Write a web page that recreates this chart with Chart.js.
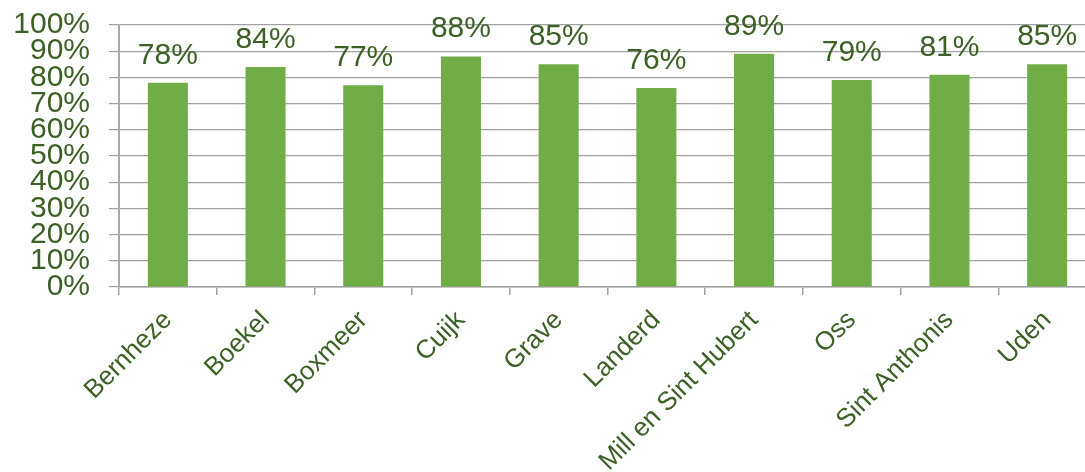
<!DOCTYPE html>
<html lang="nl">
<head>
<meta charset="utf-8">
<title>Percentage per gemeente</title>
<script src="https://cdn.jsdelivr.net/npm/chart.js"></script>
<style>
    html, body { margin: 0; padding: 0; background: #fff; overflow: hidden; }
    #grafiek { display: block; }
</style>
</head>
<body>
<canvas id="grafiek" width="1096" height="472"></canvas>
<script>
// Gemeenten en percentages
const gemeenten = ['Bernheze', 'Boekel', 'Boxmeer', 'Cuijk', 'Grave', 'Landerd',
    'Mill en Sint Hubert', 'Oss', 'Sint Anthonis', 'Uden'];
const percentages = [78, 84, 77, 88, 85, 76, 89, 79, 81, 85];
const yTicks = [0, 10, 20, 30, 40, 50, 60, 70, 80, 90, 100];

(function() {
    const groen = '#70AD47';
    const tekstKleur = '#3C6025';
    const lijnKleur = '#A0A0A0';
    const lettertype = '"Liberation Sans", Arial, sans-serif';

    // waarde boven elke staaf tekenen
    const waardeLabels = {
        id: 'waardeLabels',
        afterDatasetsDraw(chart) {
            const ctx = chart.ctx;
            const meta = chart.getDatasetMeta(0);
            ctx.save();
            ctx.font = '30px ' + lettertype;
            ctx.fillStyle = tekstKleur;
            ctx.textAlign = 'center';
            ctx.textBaseline = 'alphabetic';
            meta.data.forEach((staaf, i) => {
                ctx.fillText(percentages[i] + '%', staaf.x, staaf.y - 19);
            });
            ctx.restore();
        }
    };

    new Chart(document.getElementById('grafiek'), {
        type: 'bar',
        data: {
            labels: gemeenten,
            datasets: [{
                data: percentages,
                backgroundColor: groen,
                borderWidth: 0,
                categoryPercentage: 1,
                barPercentage: 0.41
            }]
        },
        options: {
            responsive: false,
            animation: false,
            devicePixelRatio: 1,
            layout: { padding: { top: 25, left: 0, right: 0, bottom: 0 } },
            plugins: {
                legend: { display: false },
                tooltip: { enabled: false }
            },
            scales: {
                x: {
                    afterFit(schaal) { schaal.height = 185; },
                    grid: {
                        offset: true,
                        drawOnChartArea: false,
                        color: lijnKleur,
                        lineWidth: 1.5,
                        tickLength: 8
                    },
                    border: { color: lijnKleur, width: 1.5 },
                    ticks: {
                        autoSkip: false,
                        maxRotation: 45,
                        minRotation: 45,
                        padding: 10,
                        color: tekstKleur,
                        font: { family: lettertype, size: 26 }
                    }
                },
                y: {
                    min: 0,
                    max: 100,
                    afterFit(schaal) {
                        schaal.width = 119;
                        // labels mogen buiten het plotvlak uitsteken
                        schaal.paddingTop = 0;
                        schaal.paddingBottom = 0;
                    },
                    afterBuildTicks(schaal) {
                        schaal.ticks = yTicks.map(v => ({ value: v }));
                    },
                    grid: { color: lijnKleur, lineWidth: 1.2, tickLength: 10 },
                    border: { color: '#ABABAB', width: 2 },
                    ticks: {
                        autoSkip: false,
                        padding: 19,
                        color: tekstKleur,
                        font: { family: lettertype, size: 30 },
                        callback: v => v + '%'
                    }
                }
            }
        },
        plugins: [waardeLabels]
    });
})();
</script>
</body>
</html>
